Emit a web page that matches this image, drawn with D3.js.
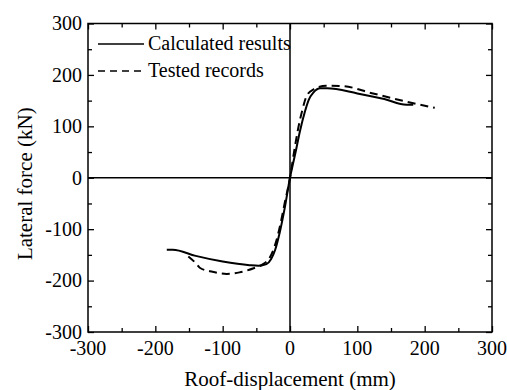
<!DOCTYPE html>
<html>
<head>
<meta charset="utf-8">
<script src="https://cdn.jsdelivr.net/npm/d3@7"></script>
<style>
  html, body { margin: 0; padding: 0; background: #fff; }
</style>
</head>
<body>
<svg id="chart" width="507" height="390"></svg>
<script>
// calculated pushover curve (solid)
const calcX = [-183, -174, -140, -100, -60, -47, -35, -28, -22, -15, -8, 0, 8, 15, 22, 28, 35, 45, 55, 100, 140, 173, 183];
const calcY = [-140, -140, -152, -163, -170, -171, -168, -158, -140, -105, -60, 0, 48, 92, 128, 152, 166, 174, 174, 164, 153, 142, 142];

// tested envelope (dashed)
const testX = [-151, -140, -134, -115, -94, -75, -54, -40, -30, -22, -15, -8, 0, 6, 12, 18, 25, 35, 54, 80, 120, 173, 215];
const testY = [-153, -166, -175, -183, -187, -184, -176, -168, -155, -130, -95, -50, 0, 50, 95, 130, 160, 172, 179, 178, 165, 148, 136];

const majorTicks = [-300, -200, -100, 0, 100, 200, 300];
const minorTicks = [-250, -150, -50, 50, 150, 250];
const seriesNames = ["Calculated results", "Tested records"];

const FONT = "'Liberation Serif', 'Times New Roman', Times, 'DejaVu Serif', serif";

const svg = d3.select("#chart");
const margin = { top: 23.5, right: 15, bottom: 58, left: 88 };
const width = 507 - margin.left - margin.right;
const height = 390 - margin.top - margin.bottom;

const g = svg.append("g").attr("transform", `translate(${margin.left},${margin.top})`);

const x = d3.scaleLinear().domain([-300, 300]).range([0, width]);
const y = d3.scaleLinear().domain([-300, 300]).range([height, 0]);

// ticks on all four sides, pointing inward
function tickSide(axisFn, scale, vals, size, transform) {
  g.append("g")
    .attr("transform", transform)
    .call(axisFn(scale).tickValues(vals).tickSize(size).tickFormat(""))
    .call(s => s.select(".domain").remove())
    .call(s => s.selectAll("line").attr("stroke", "#000").attr("stroke-width", 1.3));
}
tickSide(d3.axisTop, x, majorTicks, 6, `translate(0,${height})`);
tickSide(d3.axisTop, x, minorTicks, 4, `translate(0,${height})`);
tickSide(d3.axisBottom, x, majorTicks, 6, "translate(0,0)");
tickSide(d3.axisBottom, x, minorTicks, 4, "translate(0,0)");
tickSide(d3.axisRight, y, majorTicks, 6, "translate(0,0)");
tickSide(d3.axisRight, y, minorTicks, 4, "translate(0,0)");
tickSide(d3.axisLeft, y, majorTicks, 6, `translate(${width},0)`);
tickSide(d3.axisLeft, y, minorTicks, 4, `translate(${width},0)`);

// tick labels
g.append("g").selectAll("text").data(majorTicks).join("text")
  .attr("x", d => x(d))
  .attr("y", height + 23)
  .attr("text-anchor", "middle")
  .style("font-family", FONT)
  .style("font-size", "20px")
  .text(d => d);

g.append("g").selectAll("text").data(majorTicks).join("text")
  .attr("x", -6)
  .attr("y", d => y(d))
  .attr("dy", "0.34em")
  .attr("text-anchor", "end")
  .style("font-family", FONT)
  .style("font-size", "20px")
  .text(d => d);

// zero lines
g.append("line").attr("x1", x(0)).attr("x2", x(0)).attr("y1", 0).attr("y2", height)
  .attr("stroke", "#000").attr("stroke-width", 1.5);
g.append("line").attr("x1", 0).attr("x2", width).attr("y1", y(0)).attr("y2", y(0))
  .attr("stroke", "#000").attr("stroke-width", 1.5);

// frame
g.append("rect").attr("width", width).attr("height", height)
  .attr("fill", "none").attr("stroke", "#000").attr("stroke-width", 1.5);

const line = d3.line().x(d => x(d[0])).y(d => y(d[1])).curve(d3.curveMonotoneX);

g.append("path")
  .datum(d3.zip(calcX, calcY))
  .attr("d", line)
  .attr("fill", "none").attr("stroke", "#000").attr("stroke-width", 2);

g.append("path")
  .datum(d3.zip(testX, testY))
  .attr("d", line)
  .attr("fill", "none").attr("stroke", "#000").attr("stroke-width", 2)
  .attr("stroke-dasharray", "8,5");

// legend
const legend = g.append("g").attr("transform", "translate(10,20.5)");
seriesNames.forEach((name, i) => {
  legend.append("line")
    .attr("x1", 0).attr("x2", 46)
    .attr("y1", i * 27).attr("y2", i * 27)
    .attr("stroke", "#000").attr("stroke-width", 1.6)
    .attr("stroke-dasharray", i === 1 ? "7,5" : null);
  legend.append("text")
    .attr("x", 50).attr("y", i * 27)
    .attr("dy", "0.32em")
    .style("font-family", FONT)
    .style("font-size", "20px")
    .text(name);
});

// axis titles
svg.append("text")
  .attr("x", margin.left + x(0))
  .attr("y", 386)
  .attr("text-anchor", "middle")
  .style("font-family", FONT)
  .style("font-size", "21px")
  .text("Roof-displacement (mm)");

svg.append("text")
  .attr("transform", `translate(32,${margin.top + height / 2 + 6}) rotate(-90)`)
  .attr("text-anchor", "middle")
  .style("font-family", FONT)
  .style("font-size", "21px")
  .text("Lateral force (kN)");
</script>
</body>
</html>
